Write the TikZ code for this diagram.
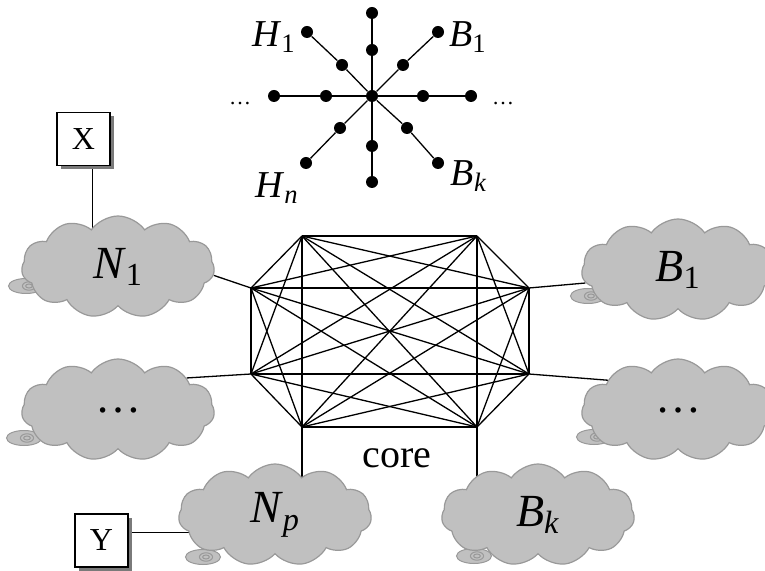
\documentclass[tikz,border=0pt]{standalone}
\usepackage{amsmath}
\usepackage{fontspec}
\setmainfont{Liberation Serif}
\usetikzlibrary{shapes.symbols,shadows,backgrounds,calc}
\definecolor{cloudfill}{HTML}{C0C0C0}
\definecolor{cloudedge}{HTML}{999999}
\definecolor{boxshade}{HTML}{7A7A7A}
\newcommand{\lab}[2]{\textit{#1}$_{\text{#2}}$}
\newcommand{\netswirl}[1]{%
  \draw[swirlline,fill=cloudfill] #1 ellipse[x radius=8.75pt,y radius=3.75pt];
  \draw[swirlline] ($#1+(3,0)$) ellipse[x radius=3.3pt,y radius=2.1pt];
  \draw[swirlline] ($#1+(3,0)$) ellipse[x radius=1.7pt,y radius=1pt];}
\tikzset{
  netcloud/.style={cloud,cloud puffs=11,cloud puff arc=110,cloud ignores aspect,
                   draw=cloudedge,fill=cloudfill,line width=0.6pt,
                   minimum width=96.5pt,minimum height=51pt,inner sep=0pt,
                   font=\fontsize{23}{27}\selectfont},
  swirlline/.style={draw=cloudedge,line width=0.5pt},
  termbox/.style={draw=black,fill=white,line width=0.6pt,
                  minimum width=26.5pt,minimum height=26.5pt,inner sep=0pt,
                  font=\fontsize{16}{19}\selectfont,
                  drop shadow={shadow xshift=2pt,shadow yshift=-2pt,
                               fill=boxshade,opacity=1}},
  dot/.style={circle,fill=black,inner sep=0pt,minimum size=6pt},
  netline/.style={line width=0.65pt},
  starlab/.style={font=\fontsize{19}{22}\selectfont}
}
\begin{document}
\begin{tikzpicture}[x=0.5pt,y=-0.5pt]
  \path[use as bounding box] (0,0) rectangle (765,571);

  % star of hosts
  \node[dot] (s0) at (372,96) {};
  \foreach \arm/\ax/\ay/\bx/\by in {u/372/50/372/13, d/372/146/372/182,
      l/326/96/274/96, r/423/96/471/96, ul/342/65/307/32, ur/403/65/438/32,
      dl/340/128/306/163, dr/407/128/438/163}{
    \node[dot] (\arm1) at (\ax,\ay) {};
    \node[dot] (\arm2) at (\bx,\by) {};
    \draw[netline] (s0) -- (\arm1) -- (\arm2);
  }
  \node[starlab] (hlab1) at (274,37) {\lab{H}{1}};
  \node[starlab] (blab1) at (468,37) {\lab{B}{1}};
  \node[starlab] (hlabn) at (277,188) {\lab{H}{\textit{n}}};
  \node[starlab] (blabk) at (469,176) {\lab{B}{\textit{k}}};
  \node[font=\fontsize{11}{13}\selectfont] (ldots) at (240,104) {\ldots};
  \node[font=\fontsize{11}{13}\selectfont] (rdots) at (503,104) {\ldots};

  % core mesh
  \coordinate (c1) at (302,236);
  \coordinate (c2) at (477,236);
  \coordinate (c3) at (529,288);
  \coordinate (c4) at (529,374);
  \coordinate (c5) at (477,427);
  \coordinate (c6) at (302,427);
  \coordinate (c7) at (251,374);
  \coordinate (c8) at (251,288);
  \foreach \i in {1,...,7}{
    \pgfmathtruncatemacro{\k}{\i+1}
    \foreach \j in {\k,...,8}
      \draw[netline] (c\i) -- (c\j);
  }
  \node[font=\fontsize{20}{24}\selectfont] (corelab) at (397,458) {core};

  % access networks
  \node[netcloud] (n1) at (118,267) {\lab{N}{1}};
  \node[netcloud] (nd) at (118,410) {\ldots};
  \node[netcloud] (np) at (275,515) {\lab{N}{\textit{p}}};
  \node[netcloud] (bk) at (538,515) {\lab{B}{\textit{k}}};
  \node[netcloud] (b1) at (678,270) {\lab{B}{1}};
  \node[netcloud] (bd) at (678,410) {\ldots};

  \node[termbox] (xb) at (83.5,139) {X};
  \node[termbox] (yb) at (101.5,540.5) {Y};

  \begin{scope}[on background layer]
    \netswirl{($(n1)+(-92,19)$)}
    \netswirl{($(nd)+(-94,28)$)}
    \netswirl{($(np)+(-72,42)$)}
    \netswirl{($(bk)+(-64,41)$)}
    \netswirl{($(b1)+(-90,26)$)}
    \netswirl{($(bd)+(-84,27)$)}
    \draw[netline] (c8) -- (n1.-5);
    \draw[netline] (c7) -- (nd.25);
    \draw[netline] (c6) -- (c6 |- np.center);
    \draw[netline] (c5) -- (c5 |- bk.center);
    \draw[netline] (c3) -- (b1.188);
    \draw[netline] (c4) -- (bd.157);
    \draw[netline] ([xshift=4.5pt]xb.south) -- ([xshift=4.5pt]xb.south |- n1.center);
    \draw[netline] ([yshift=4pt]yb.east) -- ([yshift=4pt]yb.east -| np.center);
  \end{scope}
\end{tikzpicture}
\end{document}
